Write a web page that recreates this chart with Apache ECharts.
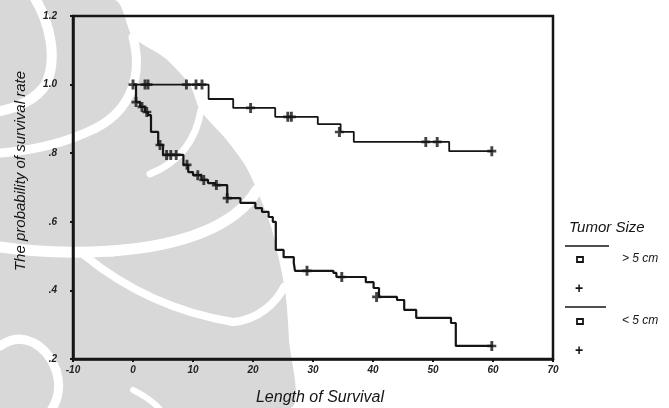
<!DOCTYPE html>
<html>
<head>
<meta charset="utf-8">
<script src="https://cdn.jsdelivr.net/npm/echarts@6/dist/echarts.min.js"></script>
<style>
  html, body { margin: 0; padding: 0; background: #fff; }
  #chart { width: 669px; height: 408px; }
</style>
</head>
<body>
<div id="chart"></div>
<script>
// Tumor size > 5 cm (upper curve): step times and survival values
const upperTimes = [0, 12.6, 16.7, 23.7, 30.8, 34.6, 36.8, 52.7, 60]
const upperSurv = [1.0, 0.958, 0.932, 0.906, 0.885, 0.862, 0.833, 0.806, 0.806]
const upperCensorTimes = [0, 2, 2.5, 8.9, 10.5, 11.5, 19.6, 25.8, 26.4, 34.4, 48.8, 50.7, 59.8]
const upperCensorSurv = [1.0, 1.0, 1.0, 1.0, 1.0, 1.0, 0.932, 0.906, 0.906, 0.862, 0.833, 0.833, 0.806]

// Tumor size < 5 cm (lower curve)
const lowerTimes = [0, 0.5, 1.2, 2.0, 2.5, 3.0, 4.2, 5.0, 8.4, 9.2, 10.0, 11.4, 12.5, 13.7, 15.7, 17.9, 20.4, 21.5, 22.6, 23.3, 23.8, 25.1, 26.8, 27.0, 33.4, 33.9, 38.8, 40.1, 41.0, 44.0, 45.2, 47.2, 53.0, 53.8, 60]
const lowerSurv = [1.0, 0.949, 0.935, 0.920, 0.911, 0.862, 0.824, 0.795, 0.766, 0.745, 0.736, 0.722, 0.713, 0.707, 0.669, 0.655, 0.640, 0.629, 0.614, 0.600, 0.518, 0.497, 0.480, 0.457, 0.451, 0.439, 0.424, 0.407, 0.381, 0.372, 0.343, 0.320, 0.305, 0.238, 0.238]
const lowerCensorTimes = [0.5, 1.5, 2.3, 4.5, 5.6, 6.3, 7.2, 9.0, 10.8, 11.8, 13.9, 15.7, 29.0, 34.8, 40.6, 59.8]
const lowerCensorSurv = [0.949, 0.935, 0.920, 0.824, 0.795, 0.795, 0.795, 0.766, 0.736, 0.722, 0.707, 0.669, 0.457, 0.439, 0.381, 0.238]

const yTickLabels = {'0.2': '.2', '0.4': '.4', '0.6': '.6', '0.8': '.8', '1': '1.0', '1.2': '1.2'}

const FONT = 'Liberation Sans'
const INK = '#151515'
const GREY = '#d8d8d8'
const plusPath = 'path://M3.4,0h3.2v10h-3.2zM0,3.7h10v2.6h-10z'

const zip = (a, b) => a.map((t, i) => [t, b[i]])

// scanned watermark behind the plot (grey swirl cut by white bands)
const bandCurves = [
  [33, -5, 50, 22, 58, 58, 46, 84, 10],
  [46, 84, 36, 100, 16, 108, 0, 111, 10],
  [133, 37, 143, 75, 131, 110, 96, 128, 9],
  [96, 128, 62, 145, 26, 151, 0, 153, 9],
  [201, 110, 196, 140, 180, 162, 150, 174, 7],
  [257, 190, 236, 226, 182, 246, 112, 251, 11],
  [112, 251, 62, 254, 26, 251, 0, 247, 11],
  [84, 255, 122, 286, 172, 312, 233, 322, 8],
  [233, 322, 258, 320, 276, 303, 284, 287, 8],
  [0, 346, 22, 330, 46, 344, 56, 370, 9],
  [56, 370, 62, 388, 57, 402, 50, 412, 9],
  [133, 390, 145, 396, 155, 402, 162, 412, 6]
]
const watermark = [
  {
    type: 'polygon', z: -10,
    shape: {
      smooth: 0.25,
      points: [[0, 0], [115, 0], [133, 37], [165, 58], [190, 85], [200, 110], [225, 138], [245, 165], [257, 190], [272, 230], [285, 290], [289, 340], [290, 408], [0, 408]]
    },
    style: { fill: GREY }
  }
].concat(bandCurves.map(c => ({
  type: 'bezierCurve', z: -9,
  shape: { x1: c[0], y1: c[1], cpx1: c[2], cpy1: c[3], cpx2: c[4], cpy2: c[5], x2: c[6], y2: c[7] },
  style: { fill: 'none', stroke: '#fff', lineWidth: c[8], lineCap: 'round' }
})))

const labels = [
  { type: 'text', x: 21, y: 171, rotation: Math.PI / 2, style: { text: 'The probability of survival rate', font: 'italic 15px "Liberation Sans"', fill: INK, align: 'center', verticalAlign: 'middle' } },
  { type: 'text', x: 320, y: 398, style: { text: 'Length of Survival', font: 'italic 16px "Liberation Sans"', fill: INK, align: 'center', verticalAlign: 'middle' } },
  { type: 'text', left: 569, top: 220, style: { text: 'Tumor Size', font: 'italic 15px "Liberation Sans"', fill: INK } },
  { type: 'line', shape: { x1: 565, y1: 246, x2: 609, y2: 246 }, style: { stroke: INK, lineWidth: 1.5 } },
  { type: 'rect', shape: { x: 577, y: 257, width: 6, height: 5 }, style: { fill: 'none', stroke: INK, lineWidth: 1.8 } },
  { type: 'text', left: 622, top: 253, style: { text: '> 5 cm', font: 'italic 12px "Liberation Sans"', fill: INK } },
  { type: 'text', left: 575, top: 282, style: { text: '+', font: 'bold 14px "Liberation Sans"', fill: INK } },
  { type: 'line', shape: { x1: 565, y1: 307, x2: 606, y2: 307 }, style: { stroke: INK, lineWidth: 1.5 } },
  { type: 'rect', shape: { x: 577, y: 319, width: 6, height: 5 }, style: { fill: 'none', stroke: INK, lineWidth: 1.8 } },
  { type: 'text', left: 622, top: 315, style: { text: '< 5 cm', font: 'italic 12px "Liberation Sans"', fill: INK } },
  { type: 'text', left: 575, top: 344, style: { text: '+', font: 'bold 14px "Liberation Sans"', fill: INK } }
]

const chart = echarts.init(document.getElementById('chart'))

let option = {
  animation: false,
  backgroundColor: '#fff',
  grid: {
    left: 73,
    right: 116,
    top: 16,
    bottom: 49,
    show: true,
    borderColor: INK,
    borderWidth: 2.5
  },
  xAxis: {
    type: 'value',
    min: -10,
    max: 70,
    interval: 10,
    axisLine: { show: true, onZero: false, lineStyle: { color: INK, width: 2.5 } },
    axisTick: { show: true, length: 3, lineStyle: { color: INK, width: 2 } },
    axisLabel: { fontFamily: FONT, fontStyle: 'italic', fontWeight: 'bold', fontSize: 10, color: '#222', margin: 6 },
    splitLine: { show: false }
  },
  yAxis: {
    type: 'value',
    min: 0.2,
    max: 1.2,
    interval: 0.2,
    axisLine: { show: true, onZero: false, lineStyle: { color: INK, width: 2.5 } },
    axisTick: { show: true, length: 3, lineStyle: { color: INK, width: 2 } },
    axisLabel: {
      fontFamily: FONT, fontStyle: 'italic', fontWeight: 'bold', fontSize: 10, color: '#222', margin: 16,
      formatter: v => yTickLabels[String(Math.round(v * 10) / 10)] || ''
    },
    splitLine: { show: false }
  },
  series: [
    {
      name: '> 5 cm',
      type: 'line',
      step: 'end',
      symbol: 'none',
      data: zip(upperTimes, upperSurv),
      lineStyle: { color: INK, width: 1.8 }
    },
    {
      name: '> 5 cm censored',
      type: 'scatter',
      symbol: plusPath,
      symbolSize: [9, 10],
      data: zip(upperCensorTimes, upperCensorSurv),
      itemStyle: { color: INK }
    },
    {
      name: '< 5 cm',
      type: 'line',
      step: 'end',
      symbol: 'none',
      data: zip(lowerTimes, lowerSurv),
      lineStyle: { color: INK, width: 2.2 }
    },
    {
      name: '< 5 cm censored',
      type: 'scatter',
      symbol: plusPath,
      symbolSize: [9, 10],
      data: zip(lowerCensorTimes, lowerCensorSurv),
      itemStyle: { color: INK }
    }
  ],
  graphic: watermark.concat(labels)
}

chart.setOption(option)
</script>
</body>
</html>
